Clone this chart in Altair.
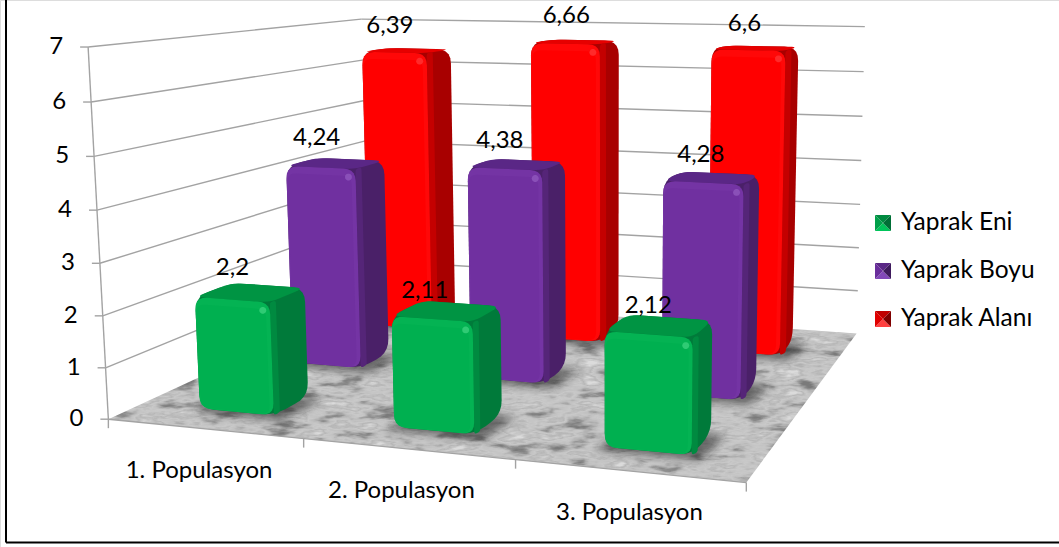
import base64
import numpy as np
import pandas as pd
import altair as alt

# --- chart values -----------------------------------------------------------
categories = ["1. Populasyon", "2. Populasyon", "3. Populasyon"]
series = ["Yaprak Eni", "Yaprak Boyu", "Yaprak Alanı"]
yaprak_eni = [2.2, 2.11, 2.12]
yaprak_boyu = [4.24, 4.38, 4.28]
yaprak_alani = [6.39, 6.66, 6.6]
value_ticks = [0, 1, 2, 3, 4, 5, 6, 7]

W, H = 1059, 547
FONT = "Lato"

# face colours per series: front, side, top, rim, highlight
palette = [
    dict(front="#00B050", side="#007A3A", top="#009443", rim="#04B353", mid="#008A40", spot="#2FCB74"),
    dict(front="#7030A0", side="#4A2068", top="#5A2786", rim="#7434A4", mid="#552578", spot="#8A50B8"),
    dict(front="#FF0000", side="#A80000", top="#E60000", rim="#FF0808", mid="#C40000", spot="#FF2A2A"),
]
values = [yaprak_eni, yaprak_boyu, yaprak_alani]

# label nudges in pixels, per series and category
label_dx = [[-18, -22, -11], [-19, -17, -11], [-17, -9, -11]]
label_dy = [[2, 6, 6], [1, 3, 3], [1, 0, 2]]
category_dx = [-5, -6, 1]

# --- camera: (u along categories, v along depth, h value) -> screen -----------
anchors = [
    ((0, 0, 0), (105, 417)), ((3, 0, 0), (747, 484)),
    ((3, 3, 0), (855, 332)), ((0, 3, 0), (372, 301)),
    ((0, 0, 7), (91, 48)), ((0, 3, 7), (358, 18)), ((3, 3, 7), (866, 27)),
]
A, b = [], []
for (u, v, h), (x, y) in anchors:
    A.append([u, v, h, 1, 0, 0, 0, 0, -x * u, -x * v, -x * h]); b.append(x)
    A.append([0, 0, 0, 0, u, v, h, 1, -y * u, -y * v, -y * h]); b.append(y)
cam = np.linalg.lstsq(np.array(A, float), np.array(b, float), rcond=None)[0]
cam = np.append(cam, 1.0).reshape(3, 4)


def project(u, v, h):
    p = cam @ np.array([u, v, h, 1.0])
    return np.array([p[0] / p[2], p[1] / p[2]])


def rounded(pts, r, steps=6):
    """Replace each corner of a screen polygon by a short quadratic arc."""
    pts = [np.array(p, float) for p in pts]
    out, n = [], len(pts)
    for i in range(n):
        prev, cur, nxt = pts[i - 1], pts[i], pts[(i + 1) % n]
        a = cur + (prev - cur) * min(r / np.linalg.norm(prev - cur), 0.5)
        c = cur + (nxt - cur) * min(r / np.linalg.norm(nxt - cur), 0.5)
        for t in np.linspace(0, 1, steps):
            out.append((1 - t) ** 2 * a + 2 * t * (1 - t) * cur + t ** 2 * c)
    return out


def feature(pts, fill):
    ring = [[float(p[0]), float(p[1])] for p in pts]
    ring.append(ring[0])
    return {"type": "Feature", "properties": {"fill": fill},
            "geometry": {"type": "Polygon", "coordinates": [ring]}}


BAR_W, BAR_D = 0.39, 0.37
faces, base_outlines, label_rows = [], [], []

# back row first so nearer bars cover farther ones
for j in (2, 1, 0):
    col = palette[j]
    for i in range(3):
        h = values[j][i]
        u0, u1 = i + 0.5 - BAR_W / 2, i + 0.5 + BAR_W / 2
        v0, v1 = j + 0.5 - BAR_D / 2, j + 0.5 + BAR_D / 2
        fbl, fbr = project(u0, v0, 0), project(u1, v0, 0)
        ftl, ftr = project(u0, v0, h), project(u1, v0, h)
        bbr = project(u1, v1, 0)
        btl, btr = project(u0, v1, h), project(u1, v1, h)
        base_outlines.append([fbl, fbr, bbr, project(u0, v1, 0)])

        hull = [fbl, fbr, bbr, btr, btl, ftl]
        faces.append(feature(rounded(hull, 14), col["side"]))
        faces.append(feature(rounded([ftl, ftr, btr, btl], 10), col["top"]))
        # softer strip of the side face next to the front edge
        strip = [fbr, fbr + (6, -3), ftr + (6, -2), ftr]
        faces.append(feature(rounded(strip, 3), col["mid"]))
        front = [fbl, fbr, ftr, ftl]
        faces.append(feature(rounded(front, 12), col["rim"]))
        # inner flat panel of the front face, leaving a bevel along top and right
        inset = [fbl + (1, -1), fbr + (-4, -1), ftr + (-4, 7), ftl + (1, 7)]
        faces.append(feature(rounded(inset, 9), col["front"]))
        # glint where the bevels meet at the upper right corner
        c = ftr + np.array([-7, 8])
        ang = np.linspace(0, 2 * np.pi, 14, endpoint=False)
        faces.append(feature([c + 3.5 * np.array([np.cos(t), np.sin(t)]) for t in ang], col["spot"]))

        top_mid = project(i + 0.5, j + 0.5, h)
        label_rows.append(dict(x=float(top_mid[0]) + label_dx[j][i],
                               y=float(top_mid[1]) - 26 + label_dy[j][i],
                               text=f"{h:g}".replace(".", ",")))

shapes = {"type": "FeatureCollection", "features": faces}

# --- floor: marble noise clipped to the floor, with soft contact shadows ------
floor_pts = [project(0, 0, 0), project(3, 0, 0), project(3, 3, 0), project(0, 3, 0)]
fmt = lambda pts: " ".join(f"{p[0]:.1f},{p[1]:.1f}" for p in pts)
shadow_svg = "".join(
    f'<polygon points="{fmt([o[0] + (-9, 3), o[1] + (8, 5), o[2] + (14, 3), o[3]])}" fill="#2a2a2a" fill-opacity="0.6" filter="url(#soft)"/>'
    for o in base_outlines)
tones = "0.48 0.56 0.68 0.76 0.79 0.72 0.78 0.86"
floor_svg = f"""<svg xmlns="http://www.w3.org/2000/svg" width="{W}" height="{H}">
<defs>
<filter id="marble" x="0" y="0" width="100%" height="100%" color-interpolation-filters="sRGB">
<feTurbulence type="fractalNoise" baseFrequency="0.03 0.095" numOctaves="4" seed="11"/>
<feColorMatrix type="matrix" values="1.6 0 0 0 -0.3 1.6 0 0 0 -0.3 1.6 0 0 0 -0.3 0 0 0 0 1"/>
<feComponentTransfer>
<feFuncR type="table" tableValues="{tones}"/>
<feFuncG type="table" tableValues="{tones}"/>
<feFuncB type="table" tableValues="{tones}"/>
</feComponentTransfer>
</filter>
<filter id="soft" x="-20%" y="-20%" width="140%" height="140%"><feGaussianBlur stdDeviation="4"/></filter>
<clipPath id="floor"><polygon points="{fmt(floor_pts)}"/></clipPath>
</defs>
<g clip-path="url(#floor)"><rect width="{W}" height="{H}" filter="url(#marble)"/>{shadow_svg}</g>
</svg>"""
floor_url = "data:image/svg+xml;base64," + base64.b64encode(floor_svg.encode()).decode()

# --- line work --------------------------------------------------------------
grid_rows = []
for t in value_ticks:
    a, b_, c = project(0, 0, t), project(0, 3, t), project(3, 3, t)
    if t > 0:
        grid_rows.append(dict(x=a[0], y=a[1], x2=b_[0], y2=b_[1]))
        grid_rows.append(dict(x=b_[0], y=b_[1], x2=c[0], y2=c[1]))
    grid_rows.append(dict(x=a[0] - 8, y=a[1], x2=a[0], y2=a[1]))  # tick on the value axis
p0, p7 = project(0, 0, 0), project(0, 0, 7)
grid_rows.append(dict(x=p0[0], y=p0[1], x2=p7[0], y2=p7[1]))
e0, e3 = project(0, 0, 0), project(3, 0, 0)
grid_rows.append(dict(x=e0[0], y=e0[1], x2=e3[0], y2=e3[1]))
for i in range(4):
    q = project(i, 0, 0)
    grid_rows.append(dict(x=q[0], y=q[1], x2=q[0], y2=q[1] + 9))
grid_df = pd.DataFrame(grid_rows)

value_df = pd.DataFrame([
    dict(x=float(project(0, 0, t)[0]) - 25, y=float(project(0, 0, t)[1]), text=str(t))
    for t in value_ticks])

cat_df = pd.DataFrame([
    dict(x=float(project(i + 0.5, 0, 0)[0]) + category_dx[i],
         y=float(project(i + 0.5, 0, 0)[1]) + 42, text=name)
    for i, name in enumerate(categories)])

label_df = pd.DataFrame(label_rows)

# --- legend: pyramid-bevelled swatches --------------------------------------
legend_x, legend_y0, legend_step, sw = 875, 215, 48, 16
legend_faces, legend_rows = [], []
shades = [("#00C45A", "#00A04A", "#006E36", "#008A40"),
          ("#8248B8", "#6A2E9C", "#3E1A5C", "#5A2786"),
          ("#FF4040", "#E00000", "#7E0000", "#C00000")]
for k, name in enumerate(series):
    y0 = legend_y0 + k * legend_step
    tl, tr = np.array([legend_x, y0]), np.array([legend_x + sw, y0])
    bl, br = np.array([legend_x, y0 + sw]), np.array([legend_x + sw, y0 + sw])
    m = np.array([legend_x + sw / 2, y0 + sw / 2])
    bottom, left, right, top = shades[k]
    legend_faces += [feature([tl, tr, m], top), feature([bl, br, m], bottom),
                     feature([tl, bl, m], left), feature([tr, br, m], right)]
    legend_rows.append(dict(x=legend_x + sw + 10, y=y0 + sw / 2, text=name))
legend_df = pd.DataFrame(legend_rows)
legend_shapes = {"type": "FeatureCollection", "features": legend_faces}

frame_df = pd.DataFrame([dict(x=6, y=0, x2=6, y2=542.5), dict(x=6, y=542.5, x2=W, y2=542.5)])

# --- chart ------------------------------------------------------------------
X = alt.X("x:Q", axis=None, scale=alt.Scale(domain=[0, W], range=[0, W]))
Y = alt.Y("y:Q", axis=None, scale=alt.Scale(domain=[0, H], range=[0, H]))


def polygons(collection):
    data = alt.InlineData(values=collection, format=alt.DataFormat(property="features", type="json"))
    return alt.Chart(data).mark_geoshape(strokeWidth=0).encode(
        fill=alt.Fill("properties.fill:N", scale=None)
    ).project(type="identity", scale=1, translate=[0, 0])


def texts(df, size, align):
    return alt.Chart(df).mark_text(font=FONT, fontSize=size, align=align, baseline="middle",
                                   color="#000000").encode(x=X, y=Y, text="text:N")


floor = alt.Chart(pd.DataFrame({"url": [floor_url]})).mark_image(
    width=W, height=H, align="left", baseline="top").encode(
    x=alt.value(0), y=alt.value(0), url="url:N")
grid = alt.Chart(grid_df).mark_rule(color="#A3A3A3", strokeWidth=1.4).encode(
    x=X, y=Y, x2="x2:Q", y2="y2:Q")
frame = alt.Chart(frame_df).mark_rule(color="#000000", strokeWidth=2).encode(
    x=X, y=Y, x2="x2:Q", y2="y2:Q")

chart = alt.layer(
    floor, grid, polygons(shapes),
    texts(value_df, 24, "right"), texts(cat_df, 24, "center"), texts(label_df, 24, "center"),
    polygons(legend_shapes), texts(legend_df, 24.5, "left"), frame,
).properties(width=W, height=H, padding=0, autosize=alt.AutoSizeParams(type="none")
).configure_view(stroke=None).configure(background="white")

chart.save("out.html", embed_options={"renderer": "svg", "actions": False})
